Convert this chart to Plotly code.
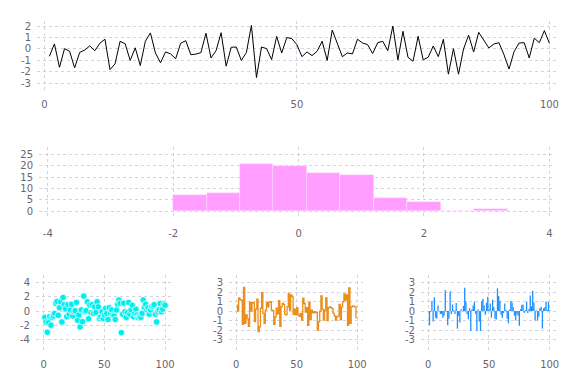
import plotly.graph_objects as go

W, H = 576, 384

# ---------------- data ----------------
line_x = list(range(1, 101))
line_y = [-0.64, 0.44, -1.6, 0.03, -0.2, -1.65, -0.3, -0.1, 0.27, -0.15,
          0.5, 0.85, -1.8, -1.3, 0.67, 0.46, -1.0, 0.1, -1.45, 0.67,
          1.4, -0.35, -1.2, -0.26, -0.43, -0.85, 0.5, 0.72, -0.5, -0.45,
          -0.32, 1.37, -0.78, -0.15, 1.42, -1.5, 0.15, 0.17, -1.0, -0.32,
          2.06, -2.5, 0.17, 0.03, -0.93, 1.1, -0.35, 1.0, 0.9, 0.38,
          -0.67, -0.26, -0.58, -0.2, 0.67, -1.0, 1.65, 0.44, -0.67, -0.35,
          -0.43, 0.85, 0.52, 0.38, -0.4, 0.55, 0.67, -0.15, 2.0, -0.96,
          1.54, -0.73, -1.07, 1.1, -0.95, -0.72, 0.26, -0.67, 0.84, -2.2,
          0.03, -2.2, 0.0, 1.2, -0.26, 1.45, 0.73, 0.09, 0.43, 0.55,
          -0.5, -1.75, -0.23, 0.52, 0.55, -0.78, 0.94, 0.55, 1.6, 0.49]

hist_edges = [-2.0, -1.4667, -0.9333, -0.4, 0.1333, 0.6667, 1.2, 1.7333, 2.2667, 2.8, 3.3333]
hist_counts = [7, 8, 21, 20, 17, 16, 6, 4, 0, 1]

scatter_y = [-0.9, -1.55, -3.0, -1.65, -0.8, -2.0, -0.9, -0.7, -0.35, 1.1,
             1.35, -0.6, 0.45, 1.3, -1.55, 1.9, 0.9, 0.3, -0.8, 0.9,
             -0.45, 0.15, 0.95, -0.7, -0.1, 0.05, 1.2, -1.3, -0.55, -2.25,
             0.15, -1.5, 2.1, -0.1, 0.05, 1.3, -1.1, 0.85, -0.25, 0.9,
             -0.35, 0.6, -0.2, 1.3, 0.6, -1.05, -0.8, -0.1, -1.05, -0.55,
             0.35, -0.35, -1.2, 0.45, -0.35, 0.15, -0.55, -0.7, -1.2, 0.15,
             0.95, 1.55, 1.1, -3.05, -0.45, 1.1, -0.1, -0.9, -0.25, 1.2,
             -0.45, 0.15, 0.8, -0.8, -0.35, 0.25, -0.55, -0.9, -0.7, -0.9,
             -0.35, 1.55, 0.5, 0.95, 0.15, 0.45, -0.45, 0.15, 0.6, 0.7,
             0.9, -0.45, -1.55, -0.1, 0.15, 1.05, -0.1, 0.25, 1.0, 0.8]

step_y = [0.7, 0.0, 1.4, 1.2, 1.15, -1.4, 2.5, -1.3, -0.4, -0.8,
          -1.6, 0.95, 0.0, 0.9, 0.85, -1.1, 0.2, 1.25, -2.15, -1.65,
          0.3, 1.95, -0.25, -1.3, 0.1, 0.9, 0.45, 0.95, 1.0, 0.1,
          0.05, -1.4, -0.6, 0.3, -0.3, 1.1, -1.6, 0.45, 0.8, 0.7,
          -0.35, -0.4, 0.45, 1.85, 0.1, 1.7, 1.5, -0.35, 0.2, -0.4,
          0.35, -0.4, -0.55, -0.25, -0.95, 1.35, 0.8, -0.1, 0.35, -1.5,
          0.95, -0.9, 0.1, -0.2, -0.05, -0.15, -0.1, -2.0, -1.1, 0.0,
          1.6, 0.2, -0.95, 0.1, 1.4, -1.0, 0.35, 0.45, 0.4, 0.25,
          -0.25, -0.5, -0.95, -0.6, -0.5, 0.7, -0.9, 0.45, 1.0, 1.8,
          1.15, 1.7, -1.5, 2.45, -1.3, 0.45, 0.55, 0.5, 0.45, -0.7]

stick_y = [-1.5, -0.1, 1.1, -1.1, 1.45, -0.7, -0.8, 0.6, -0.05, -0.3,
           -0.3, -0.7, -0.5, 2.2, -0.05, -1.5, -0.8, 2.1, -0.3, 0.7,
           0.1, -0.3, 0.85, -1.85, -0.5, -1.2, 0.2, -0.05, 0.55, 2.45,
           1.0, -0.3, -0.85, 0.3, -2.1, 0.2, 0.6, 1.0, -0.3, -2.1,
           0.2, -1.1, -2.1, 1.05, 1.3, 0.6, -0.4, 0.9, 1.5, 0.2,
           0.8, -0.7, 1.2, 0.4, -0.8, -0.9, 2.4, 1.6, 1.1, -0.4,
           -0.7, -0.2, 0.8, 0.1, -0.8, -1.3, 0.15, 1.05, 0.9, 0.4,
           -0.5, -1.0, -0.3, -0.5, -1.55, 0.2, 0.65, 0.7, -0.2, 0.1,
           1.0, -0.2, 0.25, 1.65, 0.5, 2.15, 0.9, -1.0, 0.05, -1.0,
           -0.6, 0.3, 0.45, -1.85, 0.3, 0.4, 1.0, 0.1, 0.95, 0.1]

top_ticks = [0, 50, 100]
top_yticks = [-3, -2, -1, 0, 1, 2]
hist_xticks = [-4, -2, 0, 2, 4]
hist_yticks = [0, 5, 10, 15, 20, 25]
sc_yticks = [-4, -2, 0, 2, 4]
st_yticks = [-3, -2, -1, 0, 1, 2, 3]

# ---------------- figure ----------------
fig = go.Figure()

fig.add_trace(go.Scatter(x=line_x, y=line_y, mode="lines",
                         line=dict(color="black", width=1.0),
                         xaxis="x", yaxis="y", showlegend=False))

centers = [(a + b) / 2 for a, b in zip(hist_edges[:-1], hist_edges[1:])]
widths = [b - a for a, b in zip(hist_edges[:-1], hist_edges[1:])]
fig.add_trace(go.Bar(x=centers, y=hist_counts, width=widths,
                     marker=dict(color="#ff9eff",
                                 line=dict(color="rgba(255,225,255,0.8)", width=0.6)),
                     xaxis="x2", yaxis="y2", showlegend=False))

fig.add_trace(go.Scatter(x=line_x, y=scatter_y, mode="markers",
                         marker=dict(color="#00eeee", size=6.5,
                                     line=dict(color="white", width=0.7)),
                         xaxis="x3", yaxis="y3", showlegend=False))

fig.add_trace(go.Scatter(x=line_x, y=step_y, mode="lines", line_shape="vh",
                         line=dict(color="#ea8e1c", width=1.3),
                         xaxis="x4", yaxis="y4", showlegend=False))

sx, sy = [], []
for xi, yi in zip(line_x, stick_y):
    sx += [xi, xi, None]
    sy += [0, yi, None]
fig.add_trace(go.Scatter(x=sx, y=sy, mode="lines",
                         line=dict(color="#1e8fff", width=1.3),
                         xaxis="x5", yaxis="y5", showlegend=False))

GRID = "rgba(200,195,215,0.75)"
TICKC = "#6b6470"
FONT = "DejaVu Sans"


def xd(a, b):
    return [a / W, b / W]


def yd(top, bot):
    return [(H - bot) / H, (H - top) / H]


def ax(domain, rng, tickvals, anchor, fs=10, tl=5):
    return dict(domain=domain, range=rng, tickvals=tickvals,
                ticktext=[str(t) for t in tickvals],
                showgrid=True, gridcolor=GRID, griddash="dot", gridwidth=1,
                zeroline=False, showline=False, automargin=False,
                ticks="outside", ticklen=tl, tickcolor="rgba(0,0,0,0)",
                tickfont=dict(family=FONT, size=fs, color=TICKC),
                anchor=anchor, fixedrange=True)


fig.update_layout(
    width=W, height=H,
    margin=dict(l=0, r=0, t=0, b=0, autoexpand=False),
    paper_bgcolor="white", plot_bgcolor="white",
    bargap=0,
    xaxis=ax(xd(37, 556), [-1.45, 101.3], top_ticks, "y", tl=5),
    yaxis=ax(yd(21, 90), [-3.58, 2.44], top_yticks, "x", tl=3),
    xaxis2=ax(xd(39, 555), [-4.14, 4.09], hist_xticks, "y2", tl=5),
    yaxis2=ax(yd(147, 219), [-3.5, 28.4], hist_yticks, "x2", tl=3),
    xaxis3=ax(xd(36, 172), [-6.3, 105.7], top_ticks, "y3", tl=5),
    yaxis3=ax(yd(275, 350), [-5.5, 5.08], sc_yticks, "x3", tl=3),
    xaxis4=ax(xd(229, 363), [-6.0, 104.8], top_ticks, "y4", tl=5),
    yaxis4=ax(yd(275, 350), [-4.1, 3.8], st_yticks, "x4", tl=3),
    xaxis5=ax(xd(421, 556), [-6.0, 105.2], top_ticks, "y5", tl=5),
    yaxis5=ax(yd(275, 350), [-4.1, 3.8], st_yticks, "x5", tl=3),
)

fig.write_html("out.html",
               config={"displayModeBar": False},
               post_script="document.body.style.margin='0';"
                           "document.body.style.padding='0';"
                           "document.body.style.overflow='hidden';")
